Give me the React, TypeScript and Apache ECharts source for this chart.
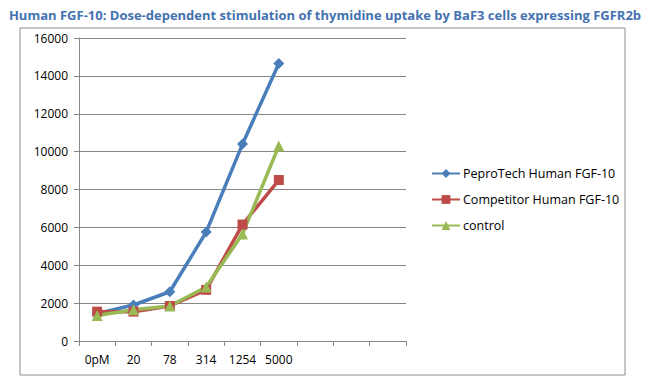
import React, { useEffect, useRef } from "react";
import * as echarts from "echarts";

const categories = ["0pM", "20", "78", "314", "1254", "5000", "", "", ""];
const peproTech = [1450, 1900, 2600, 5750, 10400, 14650];
const competitor = [1550, 1550, 1850, 2700, 6150, 8500];
const control = [1350, 1650, 1850, 2850, 5650, 10300];
const seriesNames = ["PeproTech Human FGF-10", "Competitor Human FGF-10", "control"];

export default function App() {
  const ref = useRef<HTMLDivElement>(null);
  useEffect(() => {
    const chart = echarts.init(ref.current!, null, { renderer: "svg" });
    const font = "Open Sans";
    chart.setOption({
      animation: false,
      backgroundColor: "#ffffff",
      textStyle: { fontFamily: font },
      title: {
        text: "Human FGF-10: Dose-dependent stimulation of thymidine uptake by BaF3 cells expressing FGFR2b",
        left: "center",
        top: 3,
        textStyle: { color: "#4472B0", fontSize: 13, fontWeight: "bold", fontFamily: font },
      },
      graphic: [
        {
          type: "rect",
          shape: { x: 20, y: 28, width: 605, height: 347 },
          style: { fill: "none", stroke: "#8c8c8c", lineWidth: 1 },
          silent: true,
        },
      ],
      legend: {
        orient: "vertical",
        left: 426,
        top: 162,
        itemWidth: 28,
        itemHeight: 11,
        itemGap: 13,
        textStyle: { color: "#000", fontSize: 12.5, fontFamily: font, padding: [0, 0, 0, -2] },
        data: seriesNames,
      },
      grid: { left: 79, right: 244, top: 38, bottom: 39 },
      xAxis: {
        type: "category",
        data: categories,
        boundaryGap: true,
        axisLine: { lineStyle: { color: "#868686" } },
        axisTick: { show: true, length: 5, lineStyle: { color: "#868686" } },
        axisLabel: { color: "#000", fontSize: 12, margin: 12, interval: 0 },
        splitLine: { show: false },
      },
      yAxis: {
        type: "value",
        min: 0,
        max: 16000,
        interval: 2000,
        axisLine: { show: true, lineStyle: { color: "#868686" } },
        axisTick: { show: true, length: 5, lineStyle: { color: "#868686" } },
        axisLabel: { color: "#000", fontSize: 12, margin: 11, formatter: (v: number) => String(v) },
        splitLine: { lineStyle: { color: "#868686" } },
      },
      series: [
        {
          name: seriesNames[0],
          type: "line",
          data: peproTech,
          symbol: "diamond",
          symbolSize: 11,
          lineStyle: { width: 3.5, color: "#4A7EBB" },
          itemStyle: { color: "#4A7EBB" },
        },
        {
          name: seriesNames[1],
          type: "line",
          data: competitor,
          symbol: "rect",
          symbolSize: 10,
          lineStyle: { width: 3.5, color: "#BE4B48" },
          itemStyle: { color: "#BE4B48" },
        },
        {
          name: seriesNames[2],
          type: "line",
          data: control,
          symbol: "triangle",
          symbolSize: 11,
          lineStyle: { width: 3.5, color: "#98B954" },
          itemStyle: { color: "#98B954" },
        },
      ],
    });
    return () => chart.dispose();
  }, []);
  return (
    <div
      ref={ref}
      style={{ position: "fixed", left: 0, top: 0, width: 650, height: 380 }}
    />
  );
}
